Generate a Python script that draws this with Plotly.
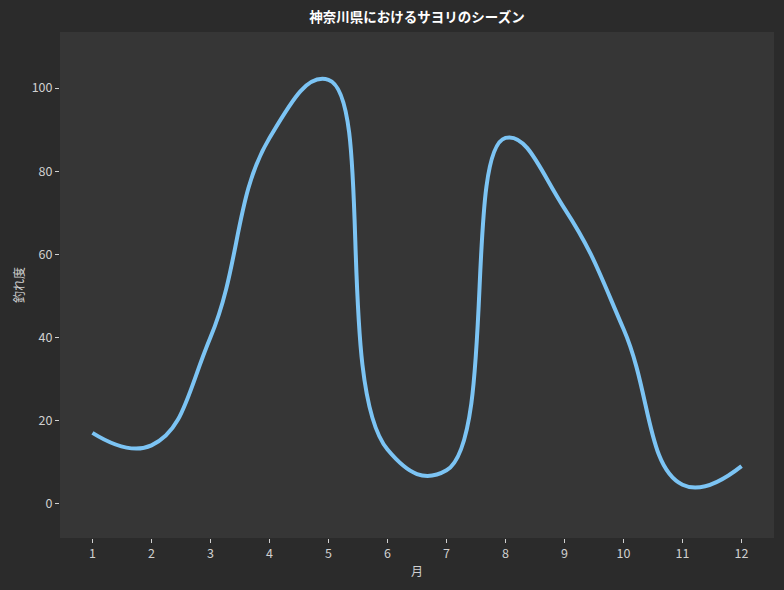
import plotly.graph_objects as go

months = [1, 2, 3, 4, 5, 6, 7, 8, 9, 10, 11, 12]
catch_index = [17, 14, 40, 88, 102, 13, 8, 88, 71, 42, 4.5, 9]

title = '神奈川県におけるサヨリのシーズン'
font_family = 'Noto Sans CJK JP'

fig = go.Figure()

fig.add_trace(go.Scatter(x=months, y=catch_index, mode='lines',
                         line=dict(color='#7cc4f4', width=4, shape='spline', smoothing=1.3),
                         showlegend=False))

# Edit the layout
fig.update_layout(width=784, height=590,
                  margin=dict(l=60, r=10, t=32, b=52),
                  paper_bgcolor='#2b2b2b',
                  plot_bgcolor='#363636',
                  font=dict(family=font_family, color='#d0d0d0', size=12.5),
                  title=dict(text='<b>' + title + '</b>', x=0.5, xref='paper', xanchor='center',
                             y=0.971, yanchor='middle',
                             font=dict(size=13.5, color='#ffffff')))

fig.update_xaxes(range=[0.45, 12.55], tickvals=months,
                 showgrid=False, zeroline=False, showline=False,
                 ticks='outside', ticklen=4, tickcolor='#d0d0d0',
                 title=dict(text='月', font=dict(size=12), standoff=6))
fig.update_yaxes(range=[-8.3, 113.5], tickvals=[0, 20, 40, 60, 80, 100],
                 showgrid=False, zeroline=False, showline=False,
                 ticks='outside', ticklen=4, tickcolor='#d0d0d0',
                 title=dict(text='釣れ度', font=dict(size=12), standoff=4))

# page margin off so the figure sits at the window corner
fig.write_html("out.html", config={'displayModeBar': False},
               post_script="document.body.style.margin='0';document.body.style.background='#2b2b2b';")
